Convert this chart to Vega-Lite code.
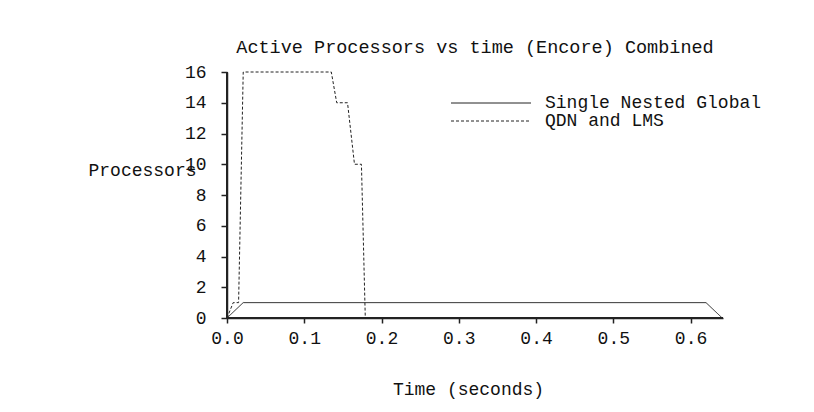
{
  "$schema": "https://vega.github.io/schema/vega-lite/v6.json",
  "width": 496,
  "height": 246,
  "autosize": "none",
  "padding": {"left": 227, "top": 72, "right": 91, "bottom": 94},
  "background": "white",
  "title": {
    "text": "Active Processors vs time (Encore) Combined",
    "font": "Liberation Mono",
    "fontSize": 18.5,
    "fontWeight": "normal",
    "color": "#111",
    "anchor": "middle",
    "offset": 7
  },
  "datasets": {
    "runs": [
      {"series": "Single Nested Global", "order": 1, "t": 0.0, "procs": 0},
      {"series": "Single Nested Global", "order": 2, "t": 0.021, "procs": 1},
      {"series": "Single Nested Global", "order": 3, "t": 0.62, "procs": 1},
      {"series": "Single Nested Global", "order": 4, "t": 0.641, "procs": 0},
      {"series": "QDN and LMS", "order": 1, "t": 0.0, "procs": 0},
      {"series": "QDN and LMS", "order": 2, "t": 0.008, "procs": 1},
      {"series": "QDN and LMS", "order": 3, "t": 0.015, "procs": 1},
      {"series": "QDN and LMS", "order": 4, "t": 0.021, "procs": 16},
      {"series": "QDN and LMS", "order": 5, "t": 0.135, "procs": 16},
      {"series": "QDN and LMS", "order": 6, "t": 0.142, "procs": 14},
      {"series": "QDN and LMS", "order": 7, "t": 0.156, "procs": 14},
      {"series": "QDN and LMS", "order": 8, "t": 0.165, "procs": 10},
      {"series": "QDN and LMS", "order": 9, "t": 0.174, "procs": 10},
      {"series": "QDN and LMS", "order": 10, "t": 0.179, "procs": 0},
      {"series": "QDN and LMS", "order": 11, "t": 0.641, "procs": 0}
    ],
    "frame": [
      {"order": 1, "t": 0, "procs": 16},
      {"order": 2, "t": 0, "procs": 0},
      {"order": 3, "t": 0.642, "procs": 0}
    ]
  },
  "encoding": {
    "x": {
      "field": "t",
      "type": "quantitative",
      "scale": {"domain": [0, 0.642], "nice": false, "zero": false},
      "axis": {
        "orient": "bottom",
        "title": "Time (seconds)",
        "values": [0, 0.1, 0.2, 0.3, 0.4, 0.5, 0.6],
        "format": ".1f",
        "labelFlush": false,
        "labelOverlap": false,
        "grid": false,
        "domain": true,
        "domainColor": "#222222",
        "domainWidth": 1.5,
        "ticks": true,
        "tickColor": "#222222",
        "tickWidth": 1.5,
        "tickSize": 5,
        "labelPadding": 6,
        "titleX": 241,
        "titleY": 71,
        "titleAlign": "center",
        "titleBaseline": "middle"
      }
    },
    "y": {
      "field": "procs",
      "type": "quantitative",
      "scale": {"domain": [0, 16], "nice": false},
      "axis": {
        "orient": "left",
        "title": "Processors",
        "values": [0, 2, 4, 6, 8, 10, 12, 14, 16],
        "labelFlush": false,
        "labelOverlap": false,
        "grid": false,
        "domain": true,
        "domainColor": "#222222",
        "domainWidth": 1.5,
        "ticks": true,
        "tickColor": "#222222",
        "tickWidth": 1.5,
        "tickSize": 6,
        "labelPadding": 15,
        "titleAngle": 0,
        "titleAlign": "left",
        "titleBaseline": "middle",
        "titleX": -139,
        "titleY": 98
      }
    },
    "order": {"field": "order", "type": "quantitative"}
  },
  "layer": [
    {
      "data": {"name": "frame"},
      "mark": {"type": "line", "color": "#222", "strokeWidth": 2, "clip": false}
    },
    {
      "data": {"name": "runs"},
      "mark": {"type": "line", "color": "#222", "strokeWidth": 1, "clip": false},
      "encoding": {
        "strokeDash": {
          "field": "series",
          "type": "nominal",
          "scale": {
            "domain": ["Single Nested Global", "QDN and LMS"],
            "range": [[1, 0], [3, 2]]
          },
          "legend": {
            "title": null,
            "orient": "none",
            "legendX": 255,
            "legendY": 22,
            "padding": 0,
            "rowPadding": 0,
            "symbolType": "M-8,0H8",
            "symbolSize": 100,
            "symbolStrokeColor": "#222",
            "symbolStrokeWidth": 1,
            "labelOffset": 45,
            "labelLimit": 0
          }
        }
      }
    }
  ],
  "config": {
    "view": {"stroke": null},
    "font": "Liberation Mono",
    "axis": {
      "labelFont": "Liberation Mono",
      "labelFontSize": 18,
      "labelColor": "#111",
      "titleFont": "Liberation Mono",
      "titleFontSize": 18,
      "titleFontWeight": "normal",
      "titleColor": "#111"
    },
    "legend": {
      "labelFont": "Liberation Mono",
      "labelFontSize": 18,
      "labelColor": "#111"
    }
  }
}
